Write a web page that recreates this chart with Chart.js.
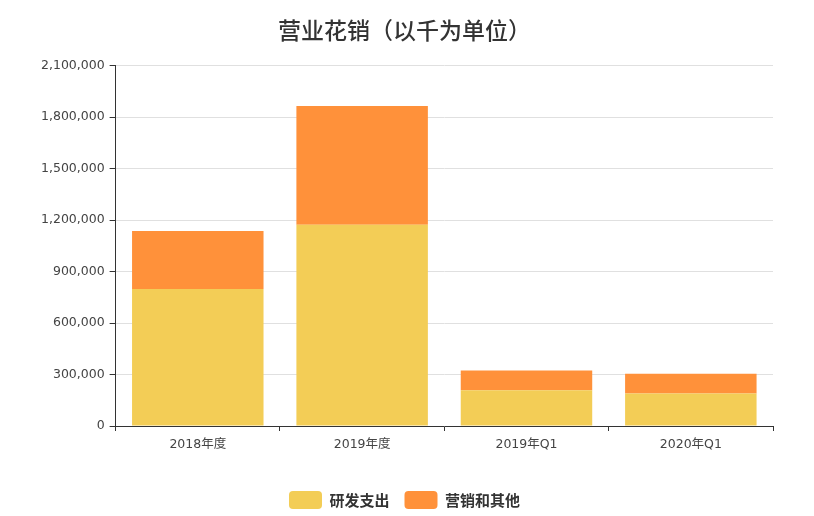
<!DOCTYPE html>
<html>
<head>
<meta charset="utf-8">
<script src="https://cdn.jsdelivr.net/npm/chart.js@4.4.1/dist/chart.umd.min.js"></script>
<style>
    html, body { margin: 0; padding: 0; background: #ffffff; }
    #wrap { width: 814px; height: 516px; }
</style>
</head>
<body>
<div id="wrap"><canvas id="cost-chart"></canvas></div>
<script>
var categories = ['2018年度', '2019年度', '2019年Q1', '2020年Q1'];
var researchSpend = [798000, 1172000, 208000, 189000];
var marketingSpend = [338000, 692000, 115000, 115000];
var yTicks = [0, 300000, 600000, 900000, 1200000, 1500000, 1800000, 2100000];

var tickFont = '"DejaVu Sans", "Noto Sans CJK SC", sans-serif';
var cjkFont = '"Noto Sans CJK SC", "DejaVu Sans", sans-serif';

function formatNumber(n) {
    return n.toLocaleString('en-US');
}

// pull the legend a little closer to the bottom edge
var legendShift = {
    id: 'legendShift',
    beforeInit: function (chart) {
        var fit = chart.legend.fit;
        chart.legend.fit = function () {
            fit.bind(chart.legend)();
            this.height -= 3;
        };
    }
};

document.addEventListener('DOMContentLoaded', function () {
    var canvas = document.getElementById('cost-chart');
    new Chart(canvas, {
        type: 'bar',
        data: {
            labels: categories,
            datasets: [{
                label: '研发支出',
                data: researchSpend,
                backgroundColor: '#f3cd56',
                borderWidth: 0,
                stack: 'total'
            }, {
                label: '营销和其他',
                data: marketingSpend,
                backgroundColor: '#ff913a',
                borderWidth: 0,
                stack: 'total'
            }]
        },
        plugins: [legendShift],
        options: {
            responsive: true,
            maintainAspectRatio: false,
            animation: false,
            events: [],
            layout: {
                padding: { left: 36, right: 41, top: 0, bottom: 0 }
            },
            datasets: {
                bar: { barPercentage: 0.8, categoryPercentage: 1.0 }
            },
            plugins: {
                title: {
                    display: true,
                    text: '营业花销（以千为单位）',
                    color: '#333333',
                    font: { family: cjkFont, size: 23, weight: 500 },
                    padding: { top: 16, bottom: 22 }
                },
                legend: {
                    position: 'bottom',
                    labels: {
                        color: '#333333',
                        font: { family: cjkFont, size: 15, weight: 'bold' },
                        boxWidth: 33,
                        boxHeight: 18,
                        useBorderRadius: true,
                        borderRadius: 4,
                        padding: 15
                    }
                },
                tooltip: { enabled: false }
            },
            scales: {
                x: {
                    stacked: true,
                    offset: true,
                    afterFit: function (scale) { scale.height += 18; },
                    grid: {
                        offset: true,
                        drawOnChartArea: false,
                        tickLength: 5,
                        tickColor: '#333333'
                    },
                    border: { color: '#333333', width: 1 },
                    ticks: {
                        color: '#444444',
                        padding: 6,
                        font: { family: tickFont, size: 12.5 }
                    }
                },
                y: {
                    stacked: true,
                    min: 0,
                    max: yTicks[yTicks.length - 1],
                    afterBuildTicks: function (axis) {
                        axis.ticks = yTicks.map(function (v) { return { value: v }; });
                    },
                    grid: {
                        color: '#e0e0e0',
                        tickColor: '#333333',
                        tickLength: 6
                    },
                    border: { color: '#333333', width: 1 },
                    ticks: {
                        color: '#444444',
                        padding: 5,
                        font: { family: tickFont, size: 12.5 },
                        callback: function (value) { return formatNumber(value); }
                    }
                }
            }
        }
    });
});
</script>
</body>
</html>
